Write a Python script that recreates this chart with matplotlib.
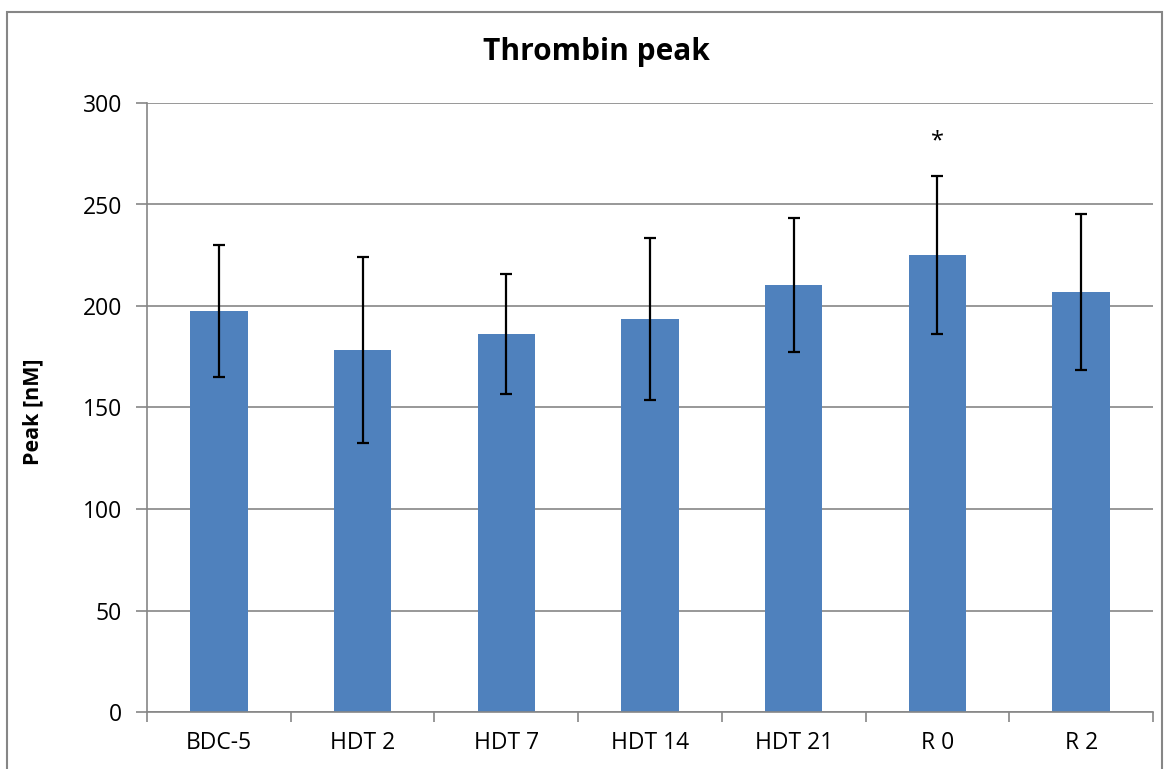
import numpy as np
import matplotlib
matplotlib.use('Agg')
import matplotlib.pyplot as plt
from matplotlib.patches import Rectangle

# --- данные ---
groups = ['BDC-5', 'HDT 2', 'HDT 7', 'HDT 14', 'HDT 21', 'R 0', 'R 2']
peak = [197.5, 178.3, 186.2, 193.6, 210.3, 225.1, 206.9]
peak_sd = [32.5, 46.0, 29.5, 40.0, 33.0, 39.0, 38.5]
star_groups = ['R 0']
star_level = 281

plt.rcParams['font.family'] = ['Open Sans', 'DejaVu Sans']

fig = plt.figure(figsize=(11.69, 7.69), dpi=100)
ax = fig.add_axes([147 / 1169, 1 - 712 / 769, 1006 / 1169, 609 / 769])

# рамка всей диаграммы
fig.patches.append(Rectangle((7 / 1169, -0.1), 1155 / 1169, 1.1 - 12 / 769,
                             transform=fig.transFigure, fill=False,
                             edgecolor='#868686', linewidth=1.5))

x = np.arange(len(groups))
ax.bar(x, peak, width=0.4, color='#4F81BD', zorder=2)
ax.errorbar(x, peak, yerr=peak_sd, fmt='none', ecolor='black',
            elinewidth=1.6, capsize=4.5, capthick=1.6, zorder=3)

for g in star_groups:
    ax.text(groups.index(g), star_level, '*', ha='center', va='center',
            fontsize=17)

ax.set_xlim(-0.5, len(groups) - 0.5)
ax.set_ylim(0, 300)
ax.set_yticks(np.arange(0, 301, 50))
ax.set_xticks(x)
ax.set_xticklabels(groups)
ax.set_xticks(np.arange(-0.5, len(groups)), minor=True)
ax.tick_params(axis='x', which='major', length=0, pad=14, labelsize=16.5)
ax.tick_params(axis='x', which='minor', length=7, color='#868686', width=1.2)
ax.tick_params(axis='y', length=8, color='#868686', width=1.2, labelsize=16.5, pad=10)

ax.grid(axis='y', color='#868686', linewidth=1.2, zorder=0)
ax.set_axisbelow(True)
for side in ['top', 'right']:
    ax.spines[side].set_visible(False)
for side in ['left', 'bottom']:
    ax.spines[side].set_color('#868686')
    ax.spines[side].set_linewidth(1.2)

fig.text(596 / 1169, 1 - 52 / 769, 'Thrombin peak', ha='center', va='center',
         fontsize=21.5, fontweight='bold')
fig.text(33 / 1169, 1 - 412 / 769, 'Peak [nM]', ha='center', va='center',
         rotation=90, fontsize=15.5, fontweight='bold')

fig.savefig('out.png', dpi=100)
plt.close(fig)
